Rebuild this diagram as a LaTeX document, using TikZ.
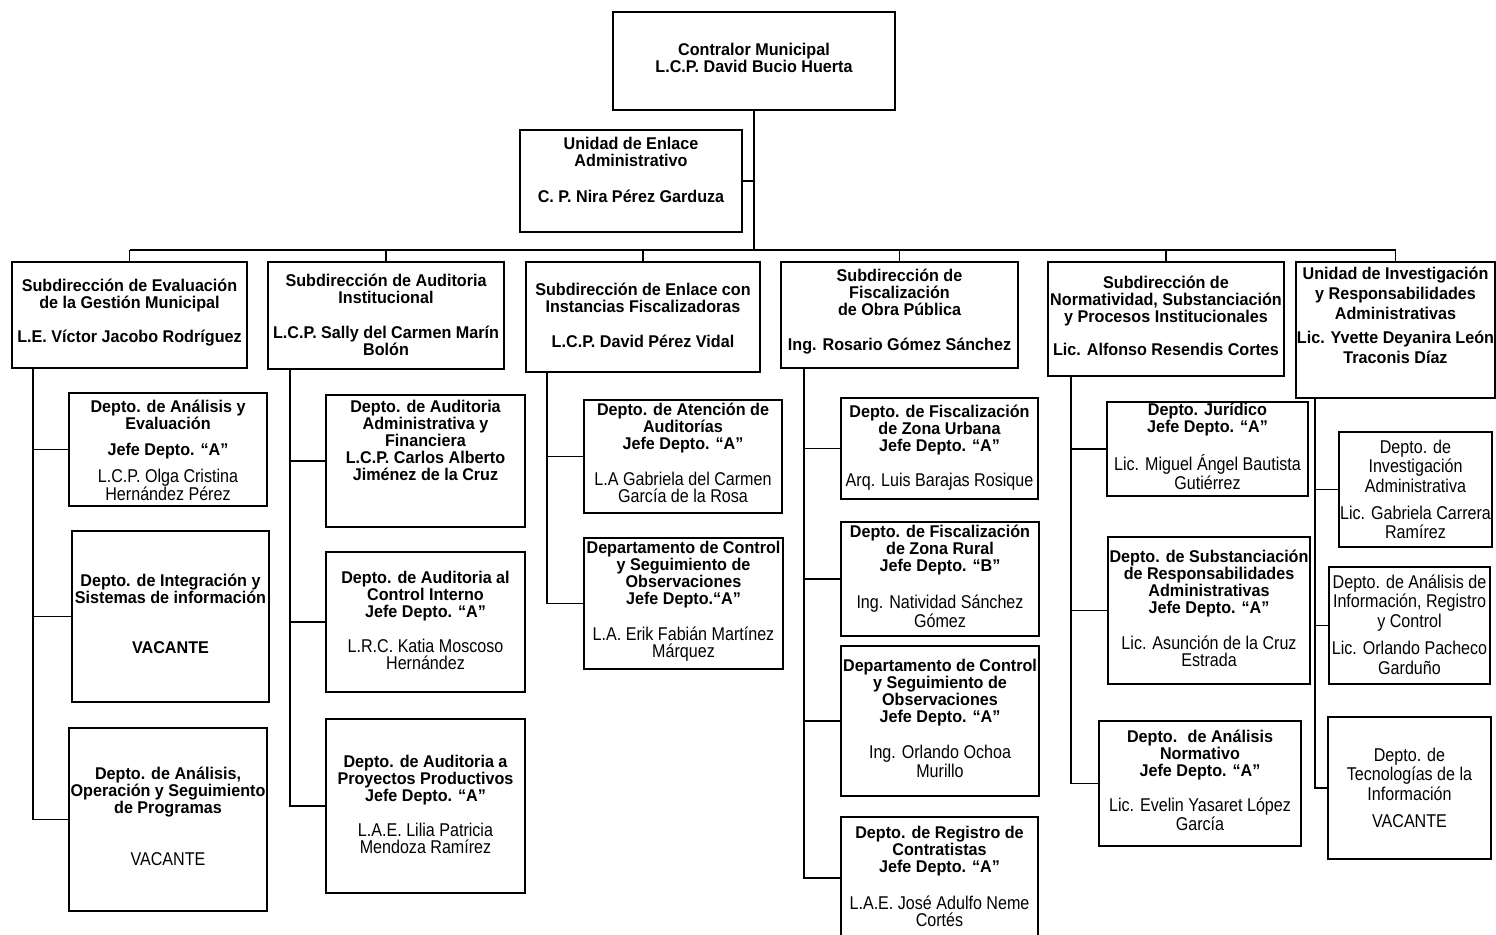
\documentclass[tikz,border=0pt]{standalone}
\usepackage{fontspec}
\setmainfont{Liberation Sans}[FakeStretch=0.87]
\newfontfamily\bdf{Liberation Sans}[FakeStretch=0.95]
\newfontfamily\rgf{Liberation Sans}[FakeStretch=0.87]
\newcommand\R{\rgf\mdseries\fontsize{18.5pt}{17pt}\selectfont}
\tikzset{
  box/.style={draw=black, line width=2pt, inner sep=0pt, fill=white},
  txt/.style={align=center, inner sep=0pt},
  link/.style={draw=black, line width=1.6pt}
}
% #1 baselineskip, #2 name, #3 x1, #4 y1, #5 x2, #6 y2, #7 text shift (down), #8 text
\newcommand\orgbox[8][17]{%
  \node[box, minimum width={(#5-#3)*1pt}, minimum height={(#6-#4)*1pt}] (#2) at ({(#3+#5)/2},{(#4+#6)/2}) {};
  \node[txt, font=\bdf\bfseries\fontsize{17pt}{#1pt}\selectfont] (#2-t) at ([yshift={-(#7)*1pt}]#2.center) {#8};}
\begin{document}
\begin{tikzpicture}[x=1pt,y=-1pt]
\useasboundingbox (0,0) rectangle (1496,934);
\fill[white] (0,0) rectangle (1496,934);

% top level
\orgbox{ctrl}{613}{12}{895}{110}{-3}{Contralor Municipal\\L.C.P. David Bucio Huerta}
\orgbox{uea}{520}{130}{742}{232}{-11}{Unidad de Enlace\\Administrativo\\[19pt]C. P. Nira Pérez Garduza}

% second level
\orgbox{s1}{12}{262}{247}{368}{-2}{Subdirección de Evaluación\\de la Gestión Municipal\\[17pt]L.E. Víctor Jacobo Rodríguez}
\orgbox{s2}{268}{262}{504}{369}{-1}{Subdirección de Auditoria\\Institucional\\[18pt]L.C.P. Sally del Carmen Marín\\Bolón}
\orgbox{s3}{526}{262}{760}{372}{-2}{Subdirección de Enlace con\\Instancias Fiscalizadoras\\[18pt]L.C.P. David Pérez Vidal}
\orgbox{s4}{781}{262}{1018}{368}{-3}{Subdirección de\\Fiscalización\\de Obra Pública\\[18pt]Ing. Rosario Gómez Sánchez}
\orgbox{s5}{1048}{262}{1284}{376}{-3}{Subdirección de\\Normatividad, Substanciación\\y Procesos Institucionales\\[16pt]Lic. Alfonso Resendis Cortes}
\orgbox[20]{s6}{1296}{262}{1495}{398}{-14.5}{Unidad de Investigación\\y Responsabilidades\\Administrativas\\[4pt]Lic. Yvette Deyanira León\\Traconis Díaz}

% column 1
\orgbox{c1a}{69}{393}{267}{506}{1}{Depto. de Análisis y\\Evaluación\\[9pt]Jefe Depto. “A”\\[10pt]\R L.C.P. Olga Cristina\\\R Hernández Pérez}
\orgbox{c1b}{72}{531}{269}{702}{-3}{Depto. de Integración y\\Sistemas de información\\[33pt]VACANTE}
\orgbox{c1c}{69}{728}{267}{911}{-3}{Depto. de Análisis,\\Operación y Seguimiento\\de Programas\\[35pt]\R VACANTE}

% column 2
\orgbox{c2a}{326}{395}{525}{527}{-20.5}{Depto. de Auditoria\\Administrativa y\\Financiera\\L.C.P. Carlos Alberto\\Jiménez de la Cruz}
\orgbox{c2b}{326}{552}{525}{692}{-2}{Depto. de Auditoria al\\Control Interno\\Jefe Depto. “A”\\[18pt]\R L.R.C. Katia Moscoso\\\R Hernández}
\orgbox{c2c}{326}{719}{525}{893}{-2}{Depto. de Auditoria a\\Proyectos Productivos\\Jefe Depto. “A”\\[18pt]\R L.A.E. Lilia Patricia\\\R Mendoza Ramírez}

% column 3
\orgbox{c3a}{584}{400}{782}{513}{-3.5}{Depto. de Atención de\\Auditorías\\Jefe Depto. “A”\\[19pt]\R L.A Gabriela del Carmen\\\R García de la Rosa}
\orgbox{c3b}{584}{538}{783}{669}{-2}{Departamento de Control\\y Seguimiento de\\Observaciones\\Jefe Depto.“A”\\[18pt]\R L.A. Erik Fabián Martínez\\\R Márquez}

% column 4
\orgbox{c4a}{841}{398}{1038}{499}{-1}{Depto. de Fiscalización\\de Zona Urbana\\Jefe Depto. “A”\\[18pt]\R Arq. Luis Barajas Rosique}
\orgbox{c4b}{841}{522}{1039}{636}{-2.5}{Depto. de Fiscalización\\de Zona Rural\\Jefe Depto. “B”\\[19pt]\R Ing. Natividad Sánchez\\\R Gómez}
\orgbox{c4c}{841}{646}{1039}{796}{-2.5}{Departamento de Control\\y Seguimiento de\\Observaciones\\Jefe Depto. “A”\\[19pt]\R Ing. Orlando Ochoa\\\R Murillo}
\orgbox{c4d}{841}{817}{1038}{939}{-2}{Depto. de Registro de\\Contratistas\\Jefe Depto. “A”\\[19pt]\R L.A.E. José Adulfo Neme\\\R Cortés}

% column 5
\orgbox{c5a}{1107}{402}{1308}{496}{-3}{Depto. Jurídico\\Jefe Depto. “A”\\[18pt]\R Lic. Miguel Ángel Bautista\\\R Gutiérrez}
\orgbox{c5b}{1108}{537}{1310}{684}{-2.5}{Depto. de Substanciación\\de Responsabilidades\\Administrativas\\Jefe Depto. “A”\\[18pt]\R Lic. Asunción de la Cruz\\\R Estrada}
\orgbox{c5c}{1099}{721}{1301}{846}{-3}{Depto. \ de Análisis\\Normativo\\Jefe Depto. “A”\\[17pt]\R Lic. Evelin Yasaret López\\\R García}

% column 6
\orgbox[19.5]{c6a}{1339}{432}{1492}{547}{0}{\R Depto. de\\\R Investigación\\\R Administrativa\\[7.5pt]\R Lic. Gabriela Carrera\\\R Ramírez}
\orgbox[19.5]{c6b}{1329}{567}{1490}{684}{-1}{\R Depto. de Análisis de\\\R Información, Registro\\\R y Control\\[8pt]\R Lic. Orlando Pacheco\\\R Garduño}
\orgbox[19.5]{c6c}{1328}{717}{1491}{859}{0}{\R Depto. de\\\R Tecnologías de la\\\R Información\\[8pt]\R VACANTE}

% connectors: top
\coordinate (j) at (754,250);
\draw[link] (ctrl.south) -- (j);
\draw[link] (uea.east) -- (uea.east -| j);
\draw[link] (s1.north |- j) -- (s6.north |- j);
\foreach \s in {s1,s2,s3,s4,s5,s6}{\draw[link] (\s.north) -- (\s.north |- j);}

% column spines
\coordinate (v1) at ([xshift=22pt]s1.south west);
\coordinate (v2) at ([xshift=23pt]s2.south west);
\coordinate (v3) at ([xshift=22pt]s3.south west);
\coordinate (v4) at ([xshift=24pt]s4.south west);
\coordinate (v5) at ([xshift=24pt]s5.south west);
\coordinate (v6) at ([xshift=20pt]s6.south west);

\draw[link] (v1) -- (v1 |- c1c.west) -- (c1c.west);
\draw[link] (v1 |- c1a.west) -- (c1a.west);
\draw[link] (v1 |- c1b.west) -- (c1b.west);

\draw[link] (v2) -- (v2 |- c2c.west) -- (c2c.west);
\draw[link] (v2 |- c2a.west) -- (c2a.west);
\draw[link] (v2 |- c2b.west) -- (c2b.west);

\draw[link] (v3) -- (v3 |- c3b.west) -- (c3b.west);
\draw[link] (v3 |- c3a.west) -- (c3a.west);

\draw[link] (v4) -- (v4 |- c4d.west) -- (c4d.west);
\draw[link] (v4 |- c4a.west) -- (c4a.west);
\draw[link] (v4 |- c4b.west) -- (c4b.west);
\draw[link] (v4 |- c4c.west) -- (c4c.west);

\draw[link] (v5) -- (v5 |- c5c.west) -- (c5c.west);
\draw[link] (v5 |- c5a.west) -- (c5a.west);
\draw[link] (v5 |- c5b.west) -- (c5b.west);

\draw[link] (v6) -- (v6 |- c6c.west) -- (c6c.west);
\draw[link] (v6 |- c6a.west) -- (c6a.west);
\draw[link] (v6 |- c6b.west) -- (c6b.west);
\end{tikzpicture}
\end{document}
